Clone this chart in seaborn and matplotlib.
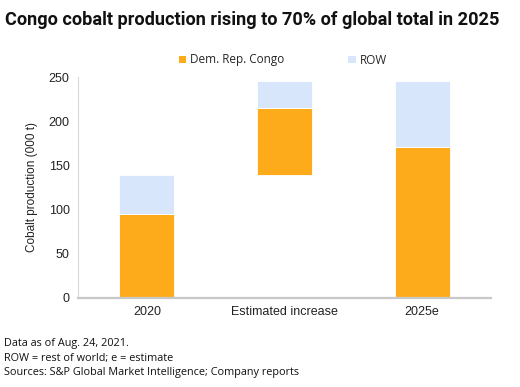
import matplotlib
matplotlib.use("Agg")
import matplotlib.pyplot as plt
import pandas as pd
import seaborn as sns
from matplotlib.patches import Patch

# values in 000 t
categories = ["2020", "Estimated increase", "2025e"]
drc_values = [95, 76, 171]
row_values = [44, 31, 75]

ORANGE = "#FDAB1B"
LIGHT_BLUE = "#D7E6FB"

# waterfall: the increase bar floats on top of the 2020 total
drc_bottom = [0, drc_values[0] + row_values[0], 0]
row_bottom = [b + v for b, v in zip(drc_bottom, drc_values)]

data = pd.DataFrame({
    "category": categories,
    "drc": drc_values,
    "row": row_values,
})

sns.set_theme(style="white")
plt.rcParams["font.family"] = ["Liberation Sans", "DejaVu Sans"]

fig = plt.figure(figsize=(5.2, 3.87), dpi=100)
ax = fig.add_axes([78 / 520, 1 - 298 / 387, 413 / 520, 221 / 387])

sns.barplot(data=data, x="category", y="drc", color=ORANGE, saturation=1,
            width=0.4, bottom=drc_bottom, edgecolor="white", linewidth=0.6, ax=ax)
sns.barplot(data=data, x="category", y="row", color=LIGHT_BLUE, saturation=1,
            width=0.4, bottom=row_bottom, edgecolor="white", linewidth=0.6, ax=ax)

ax.set_xlim(-0.5, 2.5)
ax.set_ylim(0, 250)
ax.set_yticks([0, 50, 100, 150, 200, 250])
ax.set_xlabel("")
ax.set_ylabel("Cobalt production (000 t)", fontsize=8.5, color="#222222", labelpad=8)
ax.tick_params(axis="both", labelsize=9, colors="#222222", length=0, pad=6)

for side in ["top", "right"]:
    ax.spines[side].set_visible(False)
ax.spines["left"].set_color("#D9D9D9")
ax.spines["left"].set_linewidth(0.8)
ax.spines["bottom"].set_color("#C8C8C8")
ax.spines["bottom"].set_linewidth(1.6)

handles = [Patch(facecolor=ORANGE, edgecolor="none", label="Dem. Rep. Congo"),
           Patch(facecolor=LIGHT_BLUE, edgecolor="none", label="ROW")]
fig.legend(handles=handles, loc="center left", bbox_to_anchor=(168 / 520, 1 - 60 / 387),
           ncol=2, frameon=False, handlelength=0.6, handleheight=0.6, handletextpad=0.4,
           columnspacing=5.4, prop={"family": "Open Sans", "size": 8.5})

fig.text(5 / 520, 1 - 20 / 387, "Congo cobalt production rising to 70% of global total in 2025",
         fontsize=13.1, fontweight="bold", family="Roboto", va="center", color="#111111")

notes = ["Data as of Aug. 24, 2021.",
         "ROW = rest of world; e = estimate",
         "Sources: S&P Global Market Intelligence; Company reports"]
for i, line in enumerate(notes):
    fig.text(4 / 520, 1 - (343.5 + i * 14.5) / 387, line, fontsize=7.8, family="Open Sans",
             va="center", color="#111111")

fig.savefig("out.png", dpi=100)
